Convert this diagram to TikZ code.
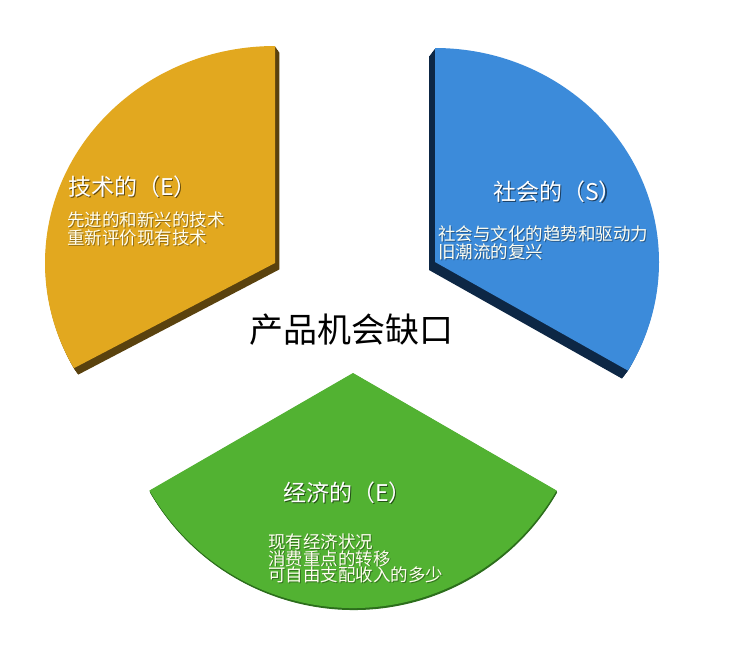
\documentclass[tikz,border=0pt]{standalone}
\usepackage{fontspec}
\setmainfont{Noto Sans CJK SC}
\definecolor{yface}{HTML}{E2A81F}
\definecolor{yside}{HTML}{5A420E}
\definecolor{bface}{HTML}{3C8BDA}
\definecolor{bside}{HTML}{0D2745}
\definecolor{gface}{HTML}{52B232}
\definecolor{gside}{HTML}{2C6E1C}
\tikzset{
  ttl/.style={anchor=west,inner sep=0pt,text=white,font=\fontsize{23}{26}\selectfont},
  ttlshadow/.style={anchor=west,inner sep=0pt,text=black,opacity=0.55,font=\fontsize{23}{26}\selectfont},
  sub/.style={anchor=west,inner sep=0pt,align=left,text=white!94!yellow,font=\fontsize{17.5}{18}\selectfont},
  subshadow/.style={anchor=west,inner sep=0pt,align=left,text=black,opacity=0.35,font=\fontsize{17.5}{18}\selectfont},
}
\newcommand\ypath{(275,-263) -- (275,-46) arc[start angle=90, end angle=209, x radius=230, y radius=217] -- cycle}
\newcommand\bpath{(435,-262) -- (435,-48) arc[start angle=90, end angle=-30.5, x radius=224, y radius=214] -- cycle}
\newcommand\gpath{(353,-373) -- +(210:235) arc[start angle=210, end angle=330, radius=235] -- cycle}
\begin{document}
\begin{tikzpicture}[x=1pt,y=1pt]
\useasboundingbox (0,0) rectangle (739,-646);
\fill[white] (0,0) rectangle (739,-646);
% yellow sector
\foreach \i in {1,...,8}{\fill[yside,shift={(\i*0.55,-\i*0.8)}] \ypath;}
\fill[yface] \ypath;
% blue sector
\foreach \i in {1,...,8}{\fill[bside,shift={(-\i*0.75,-\i*1.0)}] \bpath;}
\fill[bface] \bpath;
% green sector
\foreach \i in {1,...,4}{\fill[gside,shift={(\i*0.15,-\i*0.5)}] \gpath;}
\fill[gface] \gpath;
% texts yellow
\node[ttlshadow] (ytS) at (69.2,-188.2) {技术的（E）};
\node[ttl] (yt) at (68,-187) {技术的（E）};
\node[subshadow] (ysS) at (67.8,-229.8) {先进的和新兴的技术\\重新评价现有技术};
\node[sub] (ys) at (67,-229) {先进的和新兴的技术\\重新评价现有技术};
% texts blue
\node[ttlshadow] (btS) at (494.2,-193.2) {社会的（S）};
\node[ttl] (bt) at (493,-192) {社会的（S）};
\node[subshadow] (bsS) at (438.8,-243.8) {社会与文化的趋势和驱动力\\旧潮流的复兴};
\node[sub] (bs) at (438,-243) {社会与文化的趋势和驱动力\\旧潮流的复兴};
% texts green
\node[ttlshadow] (gtS) at (284.2,-494.2) {经济的（E）};
\node[ttl] (gt) at (283,-493) {经济的（E）};
\node[subshadow,font=\fontsize{17.5}{16.8}\selectfont] (gsS) at (268.8,-559.3) {现有经济状况\\消费重点的转移\\可自由支配收入的多少};
\node[sub,font=\fontsize{17.5}{16.8}\selectfont] (gs) at (268,-558.5) {现有经济状况\\消费重点的转移\\可自由支配收入的多少};
% center
\node[inner sep=0pt,text=black,font=\fontsize{34}{36}\selectfont] (ctr) at (351,-330) {产品机会缺口};
\end{tikzpicture}
\end{document}
